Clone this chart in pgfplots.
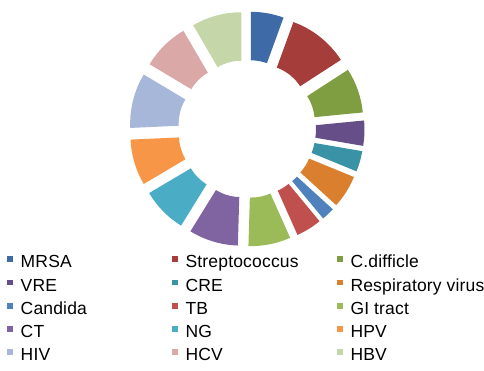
\documentclass[border=0pt]{standalone}
\usepackage{pgfplots}
\pgfplotsset{compat=1.18}
\usepackage{pgfplotstable}
\usetikzlibrary{calc}
\usepackage{fontspec}
\setmainfont[LetterSpace=1]{Liberation Sans}

\definecolor{c0}{HTML}{3E6AA8}
\definecolor{c1}{HTML}{A53E3B}
\definecolor{c2}{HTML}{7F9E41}
\definecolor{c3}{HTML}{664E88}
\definecolor{c4}{HTML}{3A92A6}
\definecolor{c5}{HTML}{DA7F2E}
\definecolor{c6}{HTML}{4F81BD}
\definecolor{c7}{HTML}{C0504D}
\definecolor{c8}{HTML}{9BBB59}
\definecolor{c9}{HTML}{8064A2}
\definecolor{c10}{HTML}{4BACC6}
\definecolor{c11}{HTML}{F79646}
\definecolor{c12}{HTML}{A6B7DA}
\definecolor{c13}{HTML}{DAA8A7}
\definecolor{c14}{HTML}{C5D7A9}

% share of each pathogen (clockwise from 12 o'clock)
\pgfplotstableread{
idx value
0  20.0
1  37.0
2  27.3
3  15.3
4  12.6
5  20.0
6  8.0
7  15.6
8  25.7
9  30.0
10 27.6
11 28.0
12 33.5
13 28.8
14 30.2
}\donutdata

\def\Rout{95.5}
\def\Rin{47}
\def\Dexp{22}

\xdef\tot{0}
\foreach \i in {0,...,14}{%
  \pgfplotstablegetelem{\i}{value}\of\donutdata
  \pgfmathsetmacro\t{\tot+\pgfplotsretval}%
  \xdef\tot{\t}%
}
\xdef\cum{0}
\foreach \i in {0,...,14}{%
  \pgfplotstablegetelem{\i}{value}\of\donutdata
  \pgfmathsetmacro\s{90-\cum/\tot*360}%
  \pgfmathsetmacro\nc{\cum+\pgfplotsretval}%
  \pgfmathsetmacro\e{90-\nc/\tot*360}%
  \pgfmathsetmacro\m{(\s+\e)/2}%
  \pgfmathsetmacro\cx{\Dexp*cos(\m)}%
  \pgfmathsetmacro\cy{\Dexp*sin(\m)}%
  \expandafter\xdef\csname segs\i\endcsname{\s}%
  \expandafter\xdef\csname sege\i\endcsname{\e}%
  \expandafter\xdef\csname segx\i\endcsname{\cx}%
  \expandafter\xdef\csname segy\i\endcsname{\cy}%
  \xdef\cum{\nc}%
}

\begin{document}
\begin{tikzpicture}
\useasboundingbox (0,0) rectangle (484pt,371pt);
\begin{axis}[
  at={(0,0)}, anchor=south west,
  width=484pt, height=371pt, scale only axis,
  xmin=-247, xmax=237, ymin=-242, ymax=129,
  hide axis, clip=false,
  legend columns=3,
  legend image code/.code={%
    \path[draw=none,fill=none] (0pt,0pt) rectangle (13.4pt,0.1pt);
    \fill[#1,draw=none] (0pt,1.2pt) rectangle (6pt,7pt);},
  legend style={
    at={(axis cs:-239.7,-126.5)}, anchor=north west,
    draw=none, fill=none, inner sep=0pt, outer sep=0pt,
    column sep=0pt, row sep=7.15pt,
    cells={anchor=west},
    nodes={inner sep=0pt, text height=12.5pt, text depth=3.5pt},
    font=\fontsize{17.5}{20}\selectfont},
]
\pgfplotsinvokeforeach{0,...,14}{%
  \edef\tmp{\noexpand\fill[c#1]
    ($(axis cs:\csname segx#1\endcsname,\csname segy#1\endcsname)+(\csname segs#1\endcsname:\Rout pt)$)
    arc[start angle=\csname segs#1\endcsname, end angle=\csname sege#1\endcsname, radius=\Rout pt]
    -- ($(axis cs:\csname segx#1\endcsname,\csname segy#1\endcsname)+(\csname sege#1\endcsname:\Rin pt)$)
    arc[start angle=\csname sege#1\endcsname, end angle=\csname segs#1\endcsname, radius=\Rin pt]
    -- cycle;}%
  \tmp
}
\addlegendimage{fill=c0}\addlegendentry{\makebox[151.5pt][l]{MRSA}}
\addlegendimage{fill=c1}\addlegendentry{\makebox[151.5pt][l]{Streptococcus}}
\addlegendimage{fill=c2}\addlegendentry{\makebox[120pt][l]{C.difficle}}
\addlegendimage{fill=c3}\addlegendentry{\makebox[151.5pt][l]{VRE}}
\addlegendimage{fill=c4}\addlegendentry{\makebox[151.5pt][l]{CRE}}
\addlegendimage{fill=c5}\addlegendentry{\makebox[120pt][l]{Respiratory virus}}
\addlegendimage{fill=c6}\addlegendentry{\makebox[151.5pt][l]{Candida}}
\addlegendimage{fill=c7}\addlegendentry{\makebox[151.5pt][l]{TB}}
\addlegendimage{fill=c8}\addlegendentry{\makebox[120pt][l]{GI tract}}
\addlegendimage{fill=c9}\addlegendentry{\makebox[151.5pt][l]{CT}}
\addlegendimage{fill=c10}\addlegendentry{\makebox[151.5pt][l]{NG}}
\addlegendimage{fill=c11}\addlegendentry{\makebox[120pt][l]{HPV}}
\addlegendimage{fill=c12}\addlegendentry{\makebox[151.5pt][l]{HIV}}
\addlegendimage{fill=c13}\addlegendentry{\makebox[151.5pt][l]{HCV}}
\addlegendimage{fill=c14}\addlegendentry{\makebox[120pt][l]{HBV}}
\end{axis}
\end{tikzpicture}
\end{document}
